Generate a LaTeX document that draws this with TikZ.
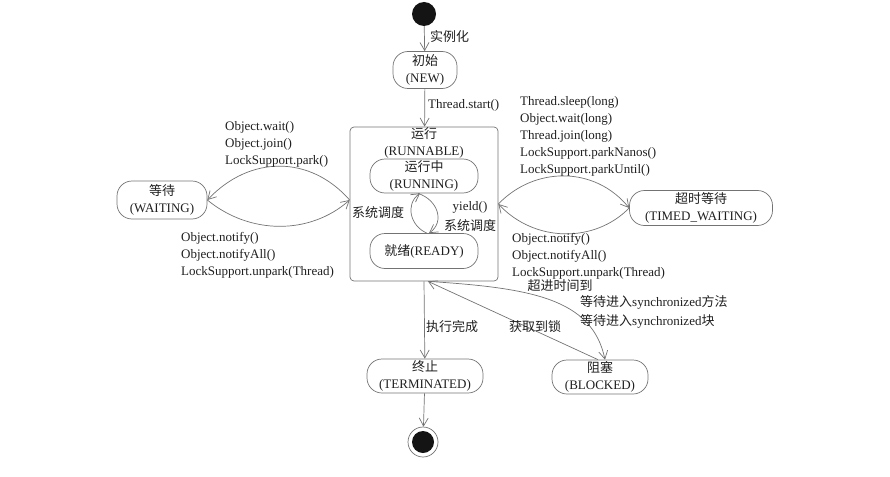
\documentclass[tikz,border=0pt]{standalone}
\usepackage{fontspec}
\setmainfont{Liberation Serif}
\newfontfamily\cjk{Noto Sans CJK SC}
\usetikzlibrary{arrows.meta}
\newcommand{\zh}[1]{{\cjk #1}}
\begin{document}
\begin{tikzpicture}[x=1pt,y=-1pt,
  every node/.style={font=\fontsize{13}{17}\selectfont, text=black!88},
  line/.style={draw=black!55, line width=0.7pt},
  arr/.style={line, -{Straight Barb[length=8pt,width=9pt]}},
  state/.style={draw=black!55, line width=0.7pt, rounded corners=15pt, align=center, inner sep=0pt},
  lbl/.style={inner sep=0pt, align=left},
]
\useasboundingbox (0,0) rectangle (890,476);
% start / end
\node[circle, fill=black!92, minimum size=24pt, inner sep=0pt] (start) at (424,14) {};
\node[circle, draw=black!55, line width=0.7pt, minimum size=30pt, inner sep=0pt] (endo) at (423,442) {};
\node[circle, fill=black!92, minimum size=22pt, inner sep=0pt] (endi) at (423,442) {};
% states
\node[state, minimum width=64pt, minimum height=37pt] (new) at (425,70) {\zh{初始}\\(NEW)};
\node[draw=black!55, line width=0.7pt, rounded corners=4pt, minimum width=148pt, minimum height=154pt, inner sep=0pt] (runnable) at (424,204) {};
\node[lbl, align=center] (runtitle) at (424,143) {\zh{运行}\\(RUNNABLE)};
\node[state, minimum width=108pt, minimum height=34pt] (running) at (424,176) {\zh{运行中}\\(RUNNING)};
\node[state, minimum width=108pt, minimum height=35pt] (ready) at (424,251) {\zh{就绪}(READY)};
\node[state, minimum width=90pt, minimum height=38pt] (wait) at (162,200) {\zh{等待}\\(WAITING)};
\node[state, minimum width=143pt, minimum height=35pt] (timed) at (701,208) {\zh{超时等待}\\(TIMED\_WAITING)};
\node[state, minimum width=116pt, minimum height=34pt] (term) at (425,376) {\zh{终止}\\(TERMINATED)};
\node[state, minimum width=96pt, minimum height=34pt] (blocked) at (600,377) {\zh{阻塞}\\(BLOCKED)};
% connectors
\draw[arr] (start) -- (new);
\draw[arr] (new) -- (runnable);
\draw[arr] (runnable.south) -- (term);
\draw[arr] (term) -- (endo);
% running/ready
\draw[arr] ([xshift=3pt]ready.north) .. controls (410,226) and (405,204) .. ([xshift=-4pt]running.south);
\draw[arr] ([xshift=-6pt]running.south) .. controls (438,200) and (445,222) .. ([xshift=5pt]ready.north);
% waiting lens
\draw[arr] ([yshift=4pt]runnable.west) .. controls (310,155) and (250,155) .. (wait.east);
\draw[arr] (wait.east) .. controls (250,235) and (310,235) .. ([yshift=4pt]runnable.west);
% timed lens
\draw[arr] (runnable.east) .. controls (535,166) and (595,166) .. (timed.west);
\draw[arr] (timed.west) .. controls (595,243) and (535,243) .. (runnable.east);
% blocked
\coordinate (rb) at ([xshift=4pt]runnable.south);
\draw[arr] (rb) .. controls (530,288) and (592,298) .. ([xshift=5pt]blocked.north);
\draw[arr] ([xshift=-2pt]blocked.north) -- (rb);
% labels
\node[lbl, anchor=west] (l1) at (430,37) {\zh{实例化}};
\node[lbl, anchor=west] (l2) at (428,105) {Thread.start()};
\node[lbl] (l3) at (378,213) {\zh{系统调度}};
\node[lbl] (l4) at (470,207) {yield()};
\node[lbl] (l5) at (470,226) {\zh{系统调度}};
\node[lbl, anchor=west] (l6) at (225,144) {Object.wait()\\Object.join()\\LockSupport.park()};
\node[lbl, anchor=west] (l7) at (181,255) {Object.notify()\\Object.notifyAll()\\LockSupport.unpark(Thread)};
\node[lbl, anchor=west] (l8) at (520,136) {Thread.sleep(long)\\Object.wait(long)\\Thread.join(long)\\LockSupport.parkNanos()\\LockSupport.parkUntil()};
\node[lbl, anchor=west] (l9) at (512,256) {Object.notify()\\Object.notifyAll()\\LockSupport.unpark(Thread)};
\node[lbl] (l10) at (560,286) {\zh{超进时间到}};
\node[lbl, anchor=west, font=\fontsize{13}{19}\selectfont] (l11) at (580,312) {\zh{等待进入}synchronized\zh{方法}\\\zh{等待进入}synchronized\zh{块}};
\node[lbl] (l12) at (452,327) {\zh{执行完成}};
\node[lbl] (l13) at (535,327) {\zh{获取到锁}};
\end{tikzpicture}
\end{document}
